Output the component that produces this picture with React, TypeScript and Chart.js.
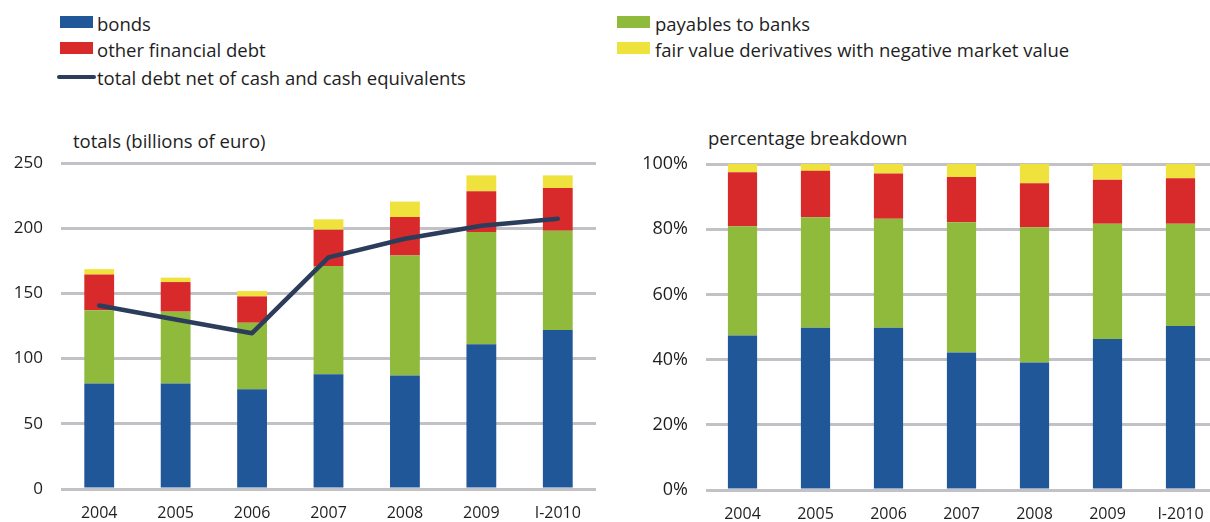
import React, { useEffect, useRef } from 'react';
import { Chart, registerables } from 'chart.js';

Chart.register(...registerables);

// ---- data ----
const categories = ['2004', '2005', '2006', '2007', '2008', '2009', 'I-2010'];

// totals (billions of euro)
const bonds = [81, 81, 76.5, 88, 87, 111, 122];
const payablesToBanks = [56, 55, 51, 83, 92, 86, 76];
const otherFinancialDebt = [27.5, 22.7, 20.2, 27.9, 29.6, 31.4, 32.8];
const fairValueDerivatives = [4.1, 3.4, 4.1, 7.9, 11.8, 12.1, 9.7];
const totalNetDebt = [140.7, 130, 119.5, 177.6, 191.9, 201.9, 207.3];

// percentage breakdown
const bondsPct = [47.4, 49.8, 49.8, 42.2, 39.1, 46.3, 50.3];
const payablesPct = [33.5, 33.9, 33.4, 39.9, 41.5, 35.4, 31.4];
const otherDebtPct = [16.6, 14.2, 13.9, 13.9, 13.5, 13.5, 13.9];
const fairValuePct = [2.5, 2.1, 2.9, 4.0, 5.9, 4.8, 4.4];

const leftTicks = [0, 50, 100, 150, 200, 250];
const rightTicks = [0, 20, 40, 60, 80, 100];

// ---- styles ----
const FONT = "'Open Sans', sans-serif";
const TEXT = '#1e1e1e';
const BLUE = '#1f5799';
const GREEN = '#8fba3c';
const RED = '#d8292b';
const YELLOW = '#f0e23c';
const LINE = '#2c3d5c';
const GRID = '#c2c2c6';

function barSet(label: string, data: number[], color: string, pct: number) {
  return {
    type: 'bar' as const,
    label,
    data,
    backgroundColor: color,
    borderWidth: 0,
    stack: 's',
    order: 1,
    categoryPercentage: 1,
    barPercentage: pct,
  };
}

function makeOptions(
  yWidth: number,
  xHeight: number,
  padRight: number,
  max: number,
  step: number,
  ySize: number,
  fmt: (v: number) => string
) {
  return {
    animation: false as const,
    responsive: false,
    devicePixelRatio: 1,
    layout: { padding: { top: 20, right: padRight, left: 0, bottom: 0 } },
    plugins: { legend: { display: false }, tooltip: { enabled: false }, title: { display: false } },
    scales: {
      x: {
        stacked: true,
        grid: { display: false, drawTicks: false },
        border: { display: false },
        ticks: { color: TEXT, font: { family: FONT, size: 16 }, padding: 15, maxRotation: 0 },
        afterFit: (s: any) => {
          s.height = xHeight;
          s.paddingLeft = 0;
          s.paddingRight = 0;
        },
      },
      y: {
        stacked: true,
        min: 0,
        max,
        grid: { color: GRID, lineWidth: 3, drawTicks: false },
        border: { display: false },
        ticks: {
          stepSize: step,
          color: TEXT,
          font: { family: FONT, size: ySize },
          padding: 18,
          callback: (v: any) => fmt(Number(v)),
        },
        afterFit: (s: any) => {
          s.width = yWidth;
          s.paddingTop = 0;
          s.paddingBottom = 0;
        },
      },
    },
  };
}

function LeftChart() {
  const ref = useRef<HTMLCanvasElement>(null);
  useEffect(() => {
    if (!ref.current) return;
    const chart = new Chart(ref.current, {
      data: {
        labels: categories,
        datasets: [
          {
            type: 'line' as const,
            label: 'total debt net of cash and cash equivalents',
            data: totalNetDebt,
            borderColor: LINE,
            borderWidth: 4.5,
            pointRadius: 0,
            tension: 0,
            order: 0,
            borderCapStyle: 'round',
            borderJoinStyle: 'round',
          },
          barSet('bonds', bonds, BLUE, 0.39),
          barSet('payables to banks', payablesToBanks, GREEN, 0.39),
          barSet('other financial debt', otherFinancialDebt, RED, 0.39),
          barSet('fair value derivatives with negative market value', fairValueDerivatives, YELLOW, 0.39),
        ] as any,
      },
      options: makeOptions(
        61, 33, 14,
        leftTicks[leftTicks.length - 1], leftTicks[1] - leftTicks[0], 17,
        (v) => String(v)
      ) as any,
    });
    return () => chart.destroy();
  }, []);
  return <canvas ref={ref} width={610} height={379} style={{ position: 'absolute', left: 0, top: 143 }} />;
}

function RightChart() {
  const ref = useRef<HTMLCanvasElement>(null);
  useEffect(() => {
    if (!ref.current) return;
    const chart = new Chart(ref.current, {
      type: 'bar',
      data: {
        labels: categories,
        datasets: [
          barSet('bonds', bondsPct, BLUE, 0.40),
          barSet('payables to banks', payablesPct, GREEN, 0.40),
          barSet('other financial debt', otherDebtPct, RED, 0.40),
          barSet('fair value derivatives with negative market value', fairValuePct, YELLOW, 0.40),
        ] as any,
      },
      options: makeOptions(
        86, 32, 13,
        rightTicks[rightTicks.length - 1], rightTicks[1] - rightTicks[0], 18,
        (v) => v + '%'
      ) as any,
    });
    return () => chart.destroy();
  }, []);
  return <canvas ref={ref} width={610} height={378} style={{ position: 'absolute', left: 620, top: 144 }} />;
}

const textStyle: React.CSSProperties = {
  position: 'absolute',
  fontFamily: FONT,
  fontSize: 18.5,
  lineHeight: '20px',
  color: TEXT,
  whiteSpace: 'nowrap',
};

function Swatch({ x, y, color }: { x: number; y: number; color: string }) {
  return <div style={{ position: 'absolute', left: x, top: y, width: 33, height: 12, background: color }} />;
}

export default function App() {
  return (
    <div style={{ position: 'fixed', left: 0, top: 0, width: 1210, height: 522, overflow: 'hidden', background: '#fff' }}>
      {/* legend, left column */}
      <Swatch x={60} y={16} color={BLUE} />
      <div style={{ ...textStyle, left: 97, top: 13.5 }}>bonds</div>
      <Swatch x={60} y={42} color={RED} />
      <div style={{ ...textStyle, left: 97, top: 40 }}>other financial debt</div>
      <div style={{ position: 'absolute', left: 57, top: 75, width: 39, height: 4, borderRadius: 2, background: LINE }} />
      <div style={{ ...textStyle, left: 97, top: 68 }}>total debt net of cash and cash equivalents</div>
      {/* legend, right column */}
      <Swatch x={617} y={16} color={GREEN} />
      <div style={{ ...textStyle, left: 655, top: 13.5 }}>payables to banks</div>
      <Swatch x={617} y={42} color={YELLOW} />
      <div style={{ ...textStyle, left: 655, top: 40 }}>fair value derivatives with negative market value</div>

      {/* chart titles */}
      <div style={{ ...textStyle, left: 73, top: 131 }}>totals (billions of euro)</div>
      <div style={{ ...textStyle, left: 708, top: 128 }}>percentage breakdown</div>

      <LeftChart />
      <RightChart />
    </div>
  );
}
